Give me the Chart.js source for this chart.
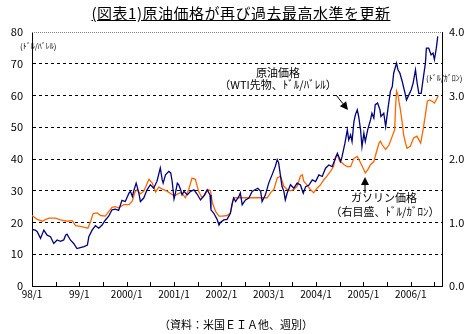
<!DOCTYPE html>
<html lang="ja">
<head>
<meta charset="utf-8">
<script src="https://cdn.jsdelivr.net/npm/chart.js@4.4.1/dist/chart.umd.min.js"></script>
<style>
  body { margin: 0; background: #fff; }
  #wrap { position: relative; width: 473px; height: 334px; }
  #title {
    position: absolute; left: 0; top: 4px; width: 482px; text-align: center;
    font: 15px "Noto Sans CJK JP", sans-serif; letter-spacing: 0.5px;
    text-decoration: underline; line-height: 18px; color: #000;
  }
  #source {
    position: absolute; left: 0; top: 317px; width: 472px; text-align: center;
    font: 11px "Noto Sans CJK JP", sans-serif; line-height: 14px; color: #000;
  }
</style>
</head>
<body>
<div id="wrap">
  <canvas id="chart" width="473" height="334"></canvas>
  <div id="title">(図表1)原油価格が再び過去最高水準を更新</div>
  <div id="source">（資料：米国ＥＩＡ他、週別）</div>
</div>
<script>
// 原油価格（WTI先物、ドル/バレル）: 日付（年の小数）と値
const oilDates = [
  1998.00, 1998.07, 1998.11, 1998.18, 1998.25, 1998.32, 1998.39, 1998.46, 1998.53, 1998.60, 1998.67, 1998.71, 1998.74, 1998.81, 1998.88, 1998.95,
  1999.02, 1999.10, 1999.17, 1999.20, 1999.27, 1999.34, 1999.41, 1999.48, 1999.55, 1999.62, 1999.69, 1999.76, 1999.83, 1999.90, 1999.97,
  2000.05, 2000.08, 2000.12, 2000.15, 2000.20, 2000.22, 2000.26, 2000.29, 2000.36, 2000.43, 2000.50, 2000.57, 2000.64, 2000.71, 2000.75, 2000.77, 2000.82, 2000.89, 2000.93, 2000.96,
  2001.00, 2001.03, 2001.07, 2001.10, 2001.14, 2001.17, 2001.21, 2001.28, 2001.35, 2001.42, 2001.49, 2001.56, 2001.63, 2001.70, 2001.76, 2001.78, 2001.84, 2001.91, 2001.95, 2001.98,
  2002.05, 2002.12, 2002.19, 2002.23, 2002.26, 2002.30, 2002.37, 2002.40, 2002.44, 2002.51, 2002.58, 2002.65, 2002.72, 2002.77, 2002.83, 2002.86, 2002.93,
  2003.00, 2003.07, 2003.14, 2003.18, 2003.21, 2003.25, 2003.28, 2003.32, 2003.35, 2003.39, 2003.46, 2003.53, 2003.60, 2003.67, 2003.73, 2003.78, 2003.85, 2003.92, 2003.99,
  2004.06, 2004.13, 2004.20, 2004.27, 2004.34, 2004.41, 2004.45, 2004.52, 2004.55, 2004.61, 2004.66, 2004.69, 2004.73, 2004.76, 2004.80, 2004.83, 2004.87, 2004.90, 2004.94, 2004.97,
  2005.01, 2005.04, 2005.09, 2005.15, 2005.18, 2005.22, 2005.25, 2005.30, 2005.35, 2005.37, 2005.43, 2005.47, 2005.52, 2005.57, 2005.61, 2005.64, 2005.70, 2005.73, 2005.77, 2005.82, 2005.87, 2005.91, 2005.96,
  2006.01, 2006.05, 2006.10, 2006.13, 2006.17, 2006.22, 2006.28, 2006.31, 2006.33, 2006.38, 2006.43, 2006.47, 2006.50, 2006.54, 2006.57
];
const oilPrices = [
  17.8, 17.6, 17.1, 15.0, 17.6, 16.0, 15.5, 13.4, 14.5, 14.1, 14.5, 16.0, 16.3, 14.5, 13.4, 11.8,
  12.1, 12.4, 12.9, 15.5, 17.6, 19.0, 18.2, 19.2, 20.8, 22.0, 24.0, 24.2, 23.8, 27.0, 26.6,
  29.3, 29.8, 28.2, 30.0, 32.4, 31.4, 29.0, 26.6, 27.7, 30.3, 31.9, 30.8, 33.0, 37.2, 33.5, 32.4, 35.0, 36.1, 35.6, 33.0,
  27.4, 29.3, 32.4, 31.9, 30.3, 28.7, 29.8, 28.7, 29.8, 30.3, 28.9, 27.1, 28.4, 30.3, 28.7, 24.0, 22.9, 21.0, 19.2, 20.0,
  20.8, 21.0, 22.9, 26.1, 27.7, 26.6, 28.2, 29.3, 25.6, 27.1, 27.7, 29.8, 30.4, 30.8, 29.8, 26.6, 28.7,
  32.4, 35.0, 37.7, 39.8, 38.8, 34.5, 31.4, 29.8, 27.1, 29.3, 31.9, 30.8, 32.4, 31.8, 29.2, 31.3, 31.8, 33.4, 32.9,
  35.0, 34.5, 37.1, 38.1, 37.6, 40.2, 41.8, 39.2, 40.8, 45.0, 49.2, 46.0, 47.6, 45.5, 51.8, 53.9, 55.5, 53.4, 49.2, 43.9,
  48.1, 45.5, 49.2, 52.3, 54.4, 52.9, 57.1, 57.6, 55.5, 53.4, 54.4, 50.2, 56.0, 61.3, 62.8, 67.1, 70.2, 68.1, 67.1, 64.4, 61.3, 58.6, 60.2,
  61.8, 63.9, 68.1, 64.4, 60.7, 60.7, 67.1, 70.2, 74.9, 74.9, 72.8, 73.4, 71.3, 74.9, 78.6
];

// ガソリン価格（右目盛、ドル/ガロン）
const gasDates = [
  1998.00, 1998.11, 1998.22, 1998.29, 1998.36, 1998.50, 1998.60, 1998.74, 1998.85, 1998.92,
  1999.02, 1999.13, 1999.18, 1999.24, 1999.29, 1999.38, 1999.45, 1999.55, 1999.62, 1999.69, 1999.76, 1999.83, 1999.94,
  2000.05, 2000.12, 2000.17, 2000.22, 2000.29, 2000.36, 2000.47, 2000.54, 2000.61, 2000.68, 2000.71, 2000.86,
  2001.00, 2001.14, 2001.21, 2001.24, 2001.31, 2001.38, 2001.45, 2001.52, 2001.59, 2001.66, 2001.71, 2001.77, 2001.81, 2001.88, 2001.95,
  2002.02, 2002.12, 2002.19, 2002.26, 2002.37, 2002.44, 2002.55, 2002.65, 2002.76, 2002.86, 2002.97,
  2003.04, 2003.11, 2003.18, 2003.25, 2003.32, 2003.39, 2003.46, 2003.53, 2003.60, 2003.67, 2003.71, 2003.74, 2003.81, 2003.88, 2003.95,
  2004.02, 2004.09, 2004.16, 2004.23, 2004.30, 2004.37, 2004.41, 2004.45, 2004.50, 2004.55, 2004.59, 2004.66, 2004.73, 2004.80, 2004.87, 2004.94,
  2005.01, 2005.04, 2005.09, 2005.15, 2005.22, 2005.29, 2005.33, 2005.36, 2005.40, 2005.47, 2005.54, 2005.61, 2005.66, 2005.68, 2005.70, 2005.73, 2005.75, 2005.78, 2005.82, 2005.85, 2005.89, 2005.92, 2005.99,
  2006.06, 2006.13, 2006.21, 2006.26, 2006.30, 2006.35, 2006.40, 2006.45, 2006.50, 2006.56, 2006.58
];
const gasPrices = [
  1.11, 1.05, 1.02, 1.05, 1.07, 1.07, 1.04, 1.02, 1.03, 0.95,
  0.94, 0.92, 0.91, 1.02, 1.14, 1.15, 1.11, 1.10, 1.17, 1.24, 1.25, 1.23, 1.28,
  1.28, 1.34, 1.47, 1.52, 1.45, 1.49, 1.68, 1.62, 1.48, 1.56, 1.54, 1.49,
  1.42, 1.47, 1.42, 1.39, 1.52, 1.70, 1.68, 1.49, 1.39, 1.44, 1.52, 1.50, 1.31, 1.17, 1.10,
  1.10, 1.11, 1.15, 1.39, 1.39, 1.39, 1.39, 1.39, 1.39, 1.39, 1.39,
  1.47, 1.52, 1.70, 1.73, 1.57, 1.52, 1.50, 1.52, 1.57, 1.73, 1.75, 1.65, 1.59, 1.52, 1.47,
  1.54, 1.59, 1.67, 1.73, 1.80, 1.88, 2.04, 2.07, 1.96, 1.94, 1.91, 1.88, 1.88, 2.01, 2.04, 1.94,
  1.83, 1.78, 1.83, 1.91, 1.96, 2.15, 2.25, 2.28, 2.22, 2.15, 2.22, 2.36, 2.46, 2.83, 3.07, 3.01, 2.91, 2.78, 2.57, 2.38, 2.25, 2.17, 2.20,
  2.33, 2.36, 2.25, 2.46, 2.65, 2.91, 2.93, 2.91, 2.88, 2.96, 3.00
];

// 横軸の目盛ラベル（各年1月）
const xTickYears = [1998, 1999, 2000, 2001, 2002, 2003, 2004, 2005, 2006];
const xTickLabels = ['98/1', '99/1', '2000/1', '2001/1', '2002/1', '2003/1', '2004/1', '2005/1', '2006/1'];

const FONT = '"Noto Sans CJK JP", sans-serif';

const toPoints = (dates, values) => dates.map((d, i) => ({ x: d, y: values[i] }));

// 注記・単位・矢印・内向きの目盛を描く
const decorPlugin = {
  id: 'decor',
  afterDraw(chart) {
    const { ctx, chartArea: a, scales } = chart;
    ctx.save();

    // 上枠（灰色の点線）
    ctx.strokeStyle = '#808080';
    ctx.lineWidth = 1;
    ctx.setLineDash([1, 1]);
    ctx.beginPath();
    ctx.moveTo(a.left, a.top + 0.5);
    ctx.lineTo(a.right, a.top + 0.5);
    ctx.stroke();
    ctx.setLineDash([]);

    // 横軸の半年ごとの目盛（内向き）
    ctx.strokeStyle = '#000';
    ctx.beginPath();
    for (let t = 1998.5; t < scales.x.max; t += 0.5) {
      const px = Math.round(scales.x.getPixelForValue(t)) + 0.5;
      ctx.moveTo(px, a.bottom);
      ctx.lineTo(px, a.bottom - 4);
    }
    ctx.stroke();

    // 単位
    ctx.fillStyle = '#000';
    ctx.textBaseline = 'middle';
    ctx.font = '8px ' + FONT;
    ctx.textAlign = 'left';
    ctx.fillText('(ﾄﾞﾙ/ﾊﾞﾚﾙ)', 20, 46);
    ctx.fillText('(ﾄﾞﾙ/ｶﾞﾛﾝ)', 426, 78);

    // 注記
    ctx.textAlign = 'center';
    ctx.font = '11px ' + FONT;
    ctx.fillText('原油価格', 278, 73);
    ctx.fillText('（WTI先物、ﾄﾞﾙ/ﾊﾞﾚﾙ）', 278, 85);
    ctx.fillText('ガソリン価格', 384, 198);
    ctx.fillText('（右目盛、ﾄﾞﾙ/ｶﾞﾛﾝ）', 385, 212);

    drawArrow(ctx, 336, 95, 348, 110);
    drawArrow(ctx, 365, 193, 365, 177);

    ctx.restore();
  }
};

function drawArrow(ctx, x1, y1, x2, y2) {
  const ang = Math.atan2(y2 - y1, x2 - x1);
  const len = 8, half = 4;
  const bx = x2 - len * Math.cos(ang), by = y2 - len * Math.sin(ang);
  ctx.strokeStyle = '#000';
  ctx.lineWidth = 1;
  ctx.beginPath();
  ctx.moveTo(x1, y1);
  ctx.lineTo(bx, by);
  ctx.stroke();
  ctx.beginPath();
  ctx.moveTo(x2, y2);
  ctx.lineTo(bx + half * Math.sin(ang), by - half * Math.cos(ang));
  ctx.lineTo(bx - half * Math.sin(ang), by + half * Math.cos(ang));
  ctx.closePath();
  ctx.fill();
}

new Chart(document.getElementById('chart'), {
  type: 'line',
  data: {
    datasets: [
      {
        label: '原油価格',
        data: toPoints(oilDates, oilPrices),
        yAxisID: 'y',
        borderColor: '#000080',
        borderWidth: 1.3,
        pointRadius: 0,
        tension: 0
      },
      {
        label: 'ガソリン価格',
        data: toPoints(gasDates, gasPrices),
        yAxisID: 'y1',
        borderColor: '#FF6600',
        borderWidth: 1.3,
        pointRadius: 0,
        tension: 0
      }
    ]
  },
  options: {
    responsive: false,
    animation: false,
    layout: { padding: { top: 32, bottom: 28, left: 0, right: 0 } },
    plugins: {
      legend: { display: false },
      tooltip: { enabled: false }
    },
    scales: {
      x: {
        type: 'linear',
        min: 1998,
        max: 2006.66,
        afterFit: s => { s.height = 20; },
        afterBuildTicks: s => { s.ticks = xTickYears.map(v => ({ value: v })); },
        ticks: {
          color: '#000',
          font: { family: FONT, size: 10 },
          padding: 2,
          maxRotation: 0,
          autoSkip: false,
          callback: v => xTickLabels[xTickYears.indexOf(v)]
        },
        grid: { display: false, drawTicks: false },
        border: { display: true, color: '#000', width: 1 }
      },
      y: {
        position: 'left',
        min: 0,
        max: 80,
        afterFit: s => { s.width = 32; },
        ticks: {
          stepSize: 10,
          color: '#000',
          padding: 9,
          font: { family: FONT, size: 11 }
        },
        grid: {
          drawTicks: false,
          color: c => (c.tick.value === 0 || c.tick.value === 80) ? 'rgba(0,0,0,0)' : '#000',
          lineWidth: 1
        },
        border: { display: true, color: '#000', width: 1, dash: [3, 3] }
      },
      y1: {
        position: 'right',
        min: 0,
        max: 4,
        afterFit: s => { s.width = 31; },
        ticks: {
          stepSize: 1,
          color: '#000',
          padding: 7,
          font: { family: FONT, size: 11 },
          callback: v => v.toFixed(1)
        },
        grid: { display: false, drawTicks: false },
        border: { display: true, color: '#000', width: 1 }
      }
    }
  },
  plugins: [decorPlugin]
});
</script>
</body>
</html>
